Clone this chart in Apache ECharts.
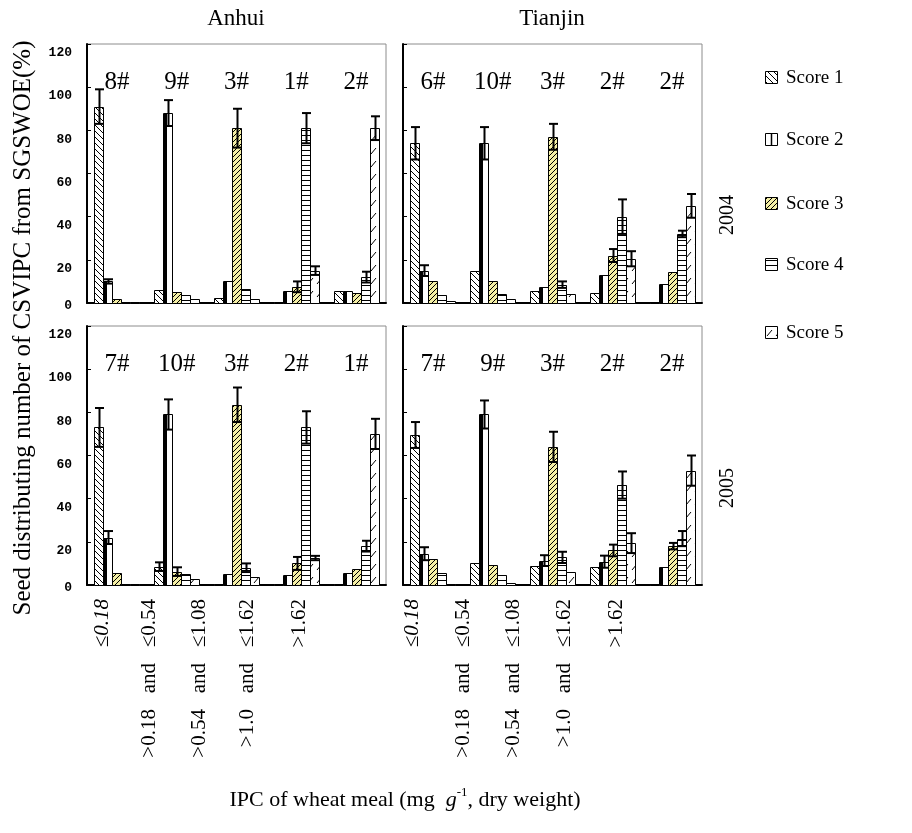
<!DOCTYPE html>
<html><head><meta charset="utf-8">
<script src="https://cdn.jsdelivr.net/npm/echarts@6/dist/echarts.min.js"></script>
<style>html,body{margin:0;padding:0;background:#fff}#c{width:912px;height:833px}</style>
</head><body><div id="c"></div>
<script>
// ---------------- data ----------------
const categories = ['≤0.18', '>0.18   and   ≤0.54', '>0.54   and   ≤1.08', '>1.0   and   ≤1.62', '>1.62'];
const scoreNames = ['Score 1', 'Score 2', 'Score 3', 'Score 4', 'Score 5'];
const yTicks = [0, 20, 40, 60, 80, 100, 120];
const panelTitles = ['Anhui', 'Tianjin'];
const yearLabels = ['2004', '2005'];

// group count labels (above each category)
const anhui2004Labels = ['8#', '9#', '3#', '1#', '2#'];
const tianjin2004Labels = ['6#', '10#', '3#', '2#', '2#'];
const anhui2005Labels = ['7#', '10#', '3#', '2#', '1#'];
const tianjin2005Labels = ['7#', '9#', '3#', '2#', '2#'];

// values: one row per score (Score 1..5), one column per category
const anhui2004 = [
  [91, 6, 2.5, 0.5, 5.5],
  [10, 88, 10, 5.5, 5.5],
  [2, 5, 81, 7.5, 4.5],
  [0.3, 3.5, 6.5, 81, 12],
  [0.2, 2, 2, 15, 81]
];
const anhui2004Err = [
  [8, 0, 0, 0, 0],
  [1, 6, 0, 0, 0],
  [0, 0, 9, 2.5, 0],
  [0, 0, 0, 7, 2.5],
  [0, 0, 0, 2, 5.5]
];
const tianjin2004 = [
  [74, 15, 5.5, 4.5, 0.5],
  [15, 74, 7.5, 13, 9],
  [10, 10, 77, 22, 14.5],
  [3.5, 4, 8.5, 40, 32],
  [1, 2, 4, 20.5, 45]
];
const tianjin2004Err = [
  [7.5, 0, 0, 0, 0],
  [2.5, 7.5, 0, 0, 0],
  [0, 0, 6, 3, 0],
  [0, 0, 1.5, 8, 1.5],
  [0, 0, 0, 3.5, 5.5]
];
const anhui2005 = [
  [73, 8.5, 0.3, 0.3, 0.2],
  [22, 79, 5.3, 4.6, 5.7],
  [5.5, 6.2, 83.5, 10, 7.3],
  [0.6, 5.3, 8, 73, 18],
  [0.2, 3, 3.7, 12.5, 70]
];
const anhui2005Err = [
  [9, 2, 0, 0, 0],
  [3, 7, 0, 0, 0],
  [0, 2, 8, 3, 0],
  [0, 0, 2, 7.5, 2.5],
  [0, 0, 0, 1, 7]
];
const tianjin2005 = [
  [69.5, 10, 9, 8.5, 0.5],
  [14.5, 79, 11.3, 10.8, 8.5],
  [12, 9.3, 64, 16, 18],
  [5.5, 4.6, 12.8, 46.3, 21.5],
  [0.3, 1, 6.2, 19.4, 53]
];
const tianjin2005Err = [
  [6, 0, 0, 0, 0],
  [3, 6.5, 2.5, 2.8, 0],
  [0, 0, 7, 2.7, 1.5],
  [0, 0, 2.6, 6.3, 3.5],
  [0, 0, 0, 4.6, 7]
];
const groupLabelValue = 102;

// ---------------- styling helpers ----------------
const SERIF = '"Liberation Serif", "Times New Roman", serif';
function makePattern(kind) {
  const c = document.createElement('canvas');
  let w = 6, h = 6;
  if (kind === 3) { w = 5; h = 5; }
  if (kind === 4) { w = 4; h = 5; }
  if (kind === 5) { w = 9; h = 13; }
  c.width = w; c.height = h;
  const g = c.getContext('2d');
  g.fillStyle = kind === 3 ? '#f4efa6' : '#ffffff';
  g.fillRect(0, 0, w, h);
  g.strokeStyle = '#000'; g.lineWidth = 1;
  g.beginPath();
  if (kind === 1) {
    for (let k = -1; k <= 1; k++) { g.moveTo(k * w, 0); g.lineTo(k * w + w, h); }
  } else if (kind === 3) {
    for (let k = -1; k <= 1; k++) { g.moveTo(k * w, h); g.lineTo(k * w + w, 0); }
  } else if (kind === 4) {
    g.moveTo(0, 0.5); g.lineTo(w, 0.5);
  } else if (kind === 5) {
    g.moveTo(2, 11); g.lineTo(7, 5);
  }
  g.stroke();
  return { image: c, repeat: 'repeat' };
}
const fills = [makePattern(1), '#ffffff', makePattern(3), makePattern(4), makePattern(5)];

function barRender(scoreIdx) {
  return function (params, api) {
    const ci = api.value(0), v = api.value(1), e = api.value(2);
    const base = api.coord([ci, 0]);
    const top = api.coord([ci, v]);
    const band = api.size([1, 0])[0];
    const bw = band * 0.15;
    const L = Math.round(base[0] + (scoreIdx - 2.5) * bw);
    const R = Math.round(base[0] + (scoreIdx - 1.5) * bw);
    const yb = Math.round(base[1]);
    const yt = Math.min(Math.round(top[1]), yb - 1);
    const children = [{
      type: 'rect',
      shape: { x: L + 0.5, y: yt + 0.5, width: R - L, height: yb - yt },
      style: { fill: fills[scoreIdx], stroke: '#000', lineWidth: 1 }
    }];
    if (scoreIdx === 1) {
      children.push({
        type: 'rect',
        shape: { x: L + 1, y: yt + 1, width: 3, height: Math.max(0, yb - yt - 1) },
        style: { fill: '#000' }
      });
    }
    if (e > 0) {
      const cx = Math.round((L + R) / 2) + 0.5;
      const yHi = api.coord([ci, v + e])[1];
      const yLo = api.coord([ci, Math.max(0, v - e)])[1];
      const half = (R - L) / 2;
      children.push(
        { type: 'line', shape: { x1: cx, y1: yLo, x2: cx, y2: yHi }, style: { stroke: '#000', lineWidth: 2 } },
        { type: 'line', shape: { x1: cx - half, y1: yHi, x2: cx + half, y2: yHi }, style: { stroke: '#000', lineWidth: 2 } },
        { type: 'line', shape: { x1: cx - half, y1: yLo, x2: cx + half, y2: yLo }, style: { stroke: '#000', lineWidth: 2 } }
      );
    }
    return { type: 'group', children: children };
  };
}
function labelRender(labels) {
  return function (params, api) {
    const p = api.coord([api.value(0), api.value(1)]);
    return {
      type: 'text',
      style: { text: labels[params.dataIndex], x: p[0], y: p[1], align: 'center', verticalAlign: 'middle',
        font: '25px ' + SERIF, fill: '#000' }
    };
  };
}

// leftward shift (px) of each rotated category label, as in the original layout
const labelShiftLeftPanel = [14, 27, 37, 49, 57];
const labelShiftRightPanel = [20, 29, 39, 48, 56];
function xRich(shifts) {
  const r = {};
  shifts.forEach((d, i) => {
    r['s' + i] = { fontFamily: SERIF, fontSize: 21, color: '#000', fontStyle: i === 0 ? 'italic' : 'normal',
      padding: [0, 0, 2 * d, 0] };
  });
  return r;
}

// ---------------- layout ----------------
const panels = [
  { vals: anhui2004, errs: anhui2004Err, labels: anhui2004Labels, grid: { left: 87, top: 44 }, yLab: true, xLab: false, shifts: labelShiftLeftPanel },
  { vals: tianjin2004, errs: tianjin2004Err, labels: tianjin2004Labels, grid: { left: 403, top: 44 }, yLab: false, xLab: false, shifts: labelShiftRightPanel },
  { vals: anhui2005, errs: anhui2005Err, labels: anhui2005Labels, grid: { left: 87, top: 326 }, yLab: true, xLab: true, shifts: labelShiftLeftPanel },
  { vals: tianjin2005, errs: tianjin2005Err, labels: tianjin2005Labels, grid: { left: 403, top: 326 }, yLab: false, xLab: true, shifts: labelShiftRightPanel }
];

const grid = [], xAxis = [], yAxis = [], series = [];
panels.forEach((p, pi) => {
  grid.push({ left: p.grid.left, top: p.grid.top, width: 299, height: 259, show: true,
    borderColor: '#8c8c8c', borderWidth: 1, backgroundColor: 'transparent' });
  xAxis.push({
    type: 'category', gridIndex: pi, data: categories, boundaryGap: true,
    axisLine: { lineStyle: { color: '#000', width: 2 } },
    axisTick: { inside: true, length: 4, lineStyle: { color: '#000' } },
    axisLabel: {
      show: p.xLab, interval: 0, rotate: 90, margin: 14, color: '#000',
      fontFamily: SERIF, fontSize: 21,
      formatter: (v, i) => '{s' + i + '|' + v + '}',
      rich: xRich(p.shifts)
    }
  });
  yAxis.push({
    type: 'value', gridIndex: pi, min: 0, max: 120, interval: 20,
    axisLine: { show: true, lineStyle: { color: '#000', width: 2 } },
    axisTick: { show: true, inside: true, length: 4, lineStyle: { color: '#000' } },
    splitLine: { show: false },
    axisLabel: {
      show: p.yLab, margin: 15, color: '#000',
      formatter: v => v === 0 ? '{z|0}' : '{n|' + v + '}',
      rich: {
        n: { padding: [18, 0, 0, 0], fontFamily: '"Liberation Mono", monospace', fontWeight: 'bold', fontSize: 13, color: '#000' },
        z: { padding: [6, 0, 0, 0], fontFamily: '"Liberation Mono", monospace', fontWeight: 'bold', fontSize: 13, color: '#000' }
      }
    }
  });
  for (let s = 0; s < 5; s++) {
    series.push({
      type: 'custom', name: scoreNames[s], xAxisIndex: pi, yAxisIndex: pi, silent: true,
      renderItem: barRender(s), encode: { x: 0, y: 1 },
      data: p.vals[s].map((v, ci) => [ci, v, p.errs[s][ci]])
    });
  }
  series.push({
    type: 'custom', xAxisIndex: pi, yAxisIndex: pi, silent: true, z: 5,
    renderItem: labelRender(p.labels), encode: { x: 0, y: 1 },
    data: p.labels.map((t, ci) => [ci, groupLabelValue])
  });
});

// legend drawn as graphic items
const legendY = [78, 140, 204, 265, 333];
const graphic = [];
scoreNames.forEach((name, s) => {
  const y = legendY[s];
  graphic.push({ type: 'rect', shape: { x: 765.5, y: y - 6.5, width: 12, height: 12 },
    style: { fill: fills[s], stroke: '#000', lineWidth: 1 } });
  if (s === 1) graphic.push({ type: 'line', shape: { x1: 771.5, y1: y - 6, x2: 771.5, y2: y + 5.5 }, style: { stroke: '#000', lineWidth: 1.5 } });
  graphic.push({ type: 'text', x: 786, y: y, style: { text: name, font: '19px ' + SERIF, fill: '#000', verticalAlign: 'middle' } });
});
graphic.push(
  { type: 'text', x: 236, y: 19, style: { text: panelTitles[0], font: '23px ' + SERIF, fill: '#000', align: 'center', verticalAlign: 'middle' } },
  { type: 'text', x: 552, y: 19, style: { text: panelTitles[1], font: '23px ' + SERIF, fill: '#000', align: 'center', verticalAlign: 'middle' } },
  { type: 'text', x: 728, y: 215, rotation: Math.PI / 2, style: { text: yearLabels[0], font: '20px ' + SERIF, fill: '#000', align: 'center', verticalAlign: 'middle' } },
  { type: 'text', x: 728, y: 488, rotation: Math.PI / 2, style: { text: yearLabels[1], font: '20px ' + SERIF, fill: '#000', align: 'center', verticalAlign: 'middle' } },
  { type: 'text', x: 23, y: 328, rotation: Math.PI / 2, style: { text: 'Seed distributing number of CSVIPC from SGSWOE(%)', font: '25px ' + SERIF, fill: '#000', align: 'center', verticalAlign: 'middle' } },
  { type: 'text', x: 405, y: 800, style: {
      text: 'IPC of wheat meal (mg  {i|g}{s|-1}, dry weight)', font: '22px ' + SERIF, fill: '#000', align: 'center', verticalAlign: 'middle',
      rich: { i: { font: 'italic 22px ' + SERIF, fill: '#000' }, s: { font: '13px ' + SERIF, fill: '#000', verticalAlign: 'top', padding: [0, 0, 14, 0] } }
  } }
);

const chart = echarts.init(document.getElementById('c'));
chart.setOption({
  animation: false,
  backgroundColor: '#fff',
  grid, xAxis, yAxis, series, graphic
});
</script>
</body></html>
